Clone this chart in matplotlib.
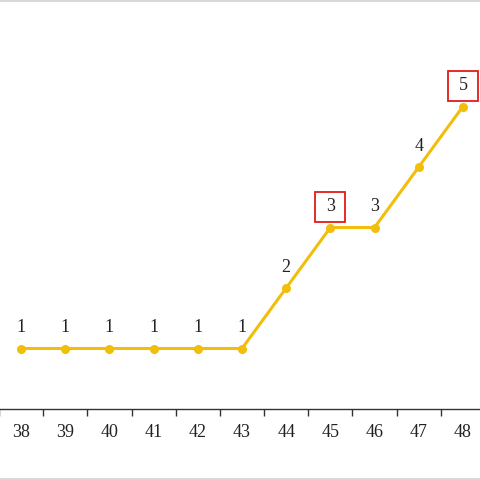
import numpy as np
import matplotlib.pyplot as plt
from matplotlib.lines import Line2D
from matplotlib.transforms import offset_copy

## DATA
categories = ['38', '39', '40', '41', '42', '43', '44', '45', '46', '47', '48']
values = [1, 1, 1, 1, 1, 1, 2, 3, 3, 4, 5]
boxed = ['45', '48']   # labels framed in red

line_color = '#F2BE0C'
plt.rcParams['font.family'] = ['Liberation Serif', 'DejaVu Serif']

fig = plt.figure(figsize=(4.8, 4.8), dpi=100)
# plot area runs a little past the picture edges
ax = fig.add_axes([-1/480, 71/480, 486/480, 363/480])

x = np.arange(len(categories))
ax.plot(x, values, color=line_color, lw=2.2, marker='o', ms=5.5,
        solid_capstyle='round', zorder=3)

# labels 15pt above each point
lab_tr = offset_copy(ax.transData, fig=fig, x=0, y=15, units='points')
for xi, v, c in zip(x, values, categories):
    if c in boxed:
        ax.plot(xi, v, marker='s', ms=21.5, mfc='white', mec='#E01B1B',
                mew=1.3, transform=lab_tr, zorder=4)
    ax.text(xi, v, str(v), transform=lab_tr, ha='center', va='center',
            fontsize=13, color='#222222', zorder=5)

ax.set_xlim(-0.5, len(categories) - 0.5)
ax.set_ylim(0, 6)

# ticks sit between categories, labels in the middle of each band
ax.set_xticks(np.arange(-0.5, len(categories), 1.0))
ax.set_xticklabels([])
ax.set_xticks(x, minor=True)
ax.set_xticklabels(categories, minor=True, fontsize=13, color='#222222')
ax.tick_params(axis='x', which='major', length=5, width=1, color='#333333',
               direction='out')
ax.tick_params(axis='x', which='minor', length=0, pad=11)
ax.set_yticks([])

for s in ['top', 'right', 'left']:
    ax.spines[s].set_visible(False)
ax.spines['bottom'].set_color('#333333')
ax.spines['bottom'].set_linewidth(1)

# thin grey lines at top and bottom of the picture
for yy in [1.5/480, 479.5/480]:
    fig.lines.append(Line2D([0, 1], [yy, yy], transform=fig.transFigure,
                            color='#D8D8D8', lw=1.5))

fig.savefig('out.png', dpi=100)
